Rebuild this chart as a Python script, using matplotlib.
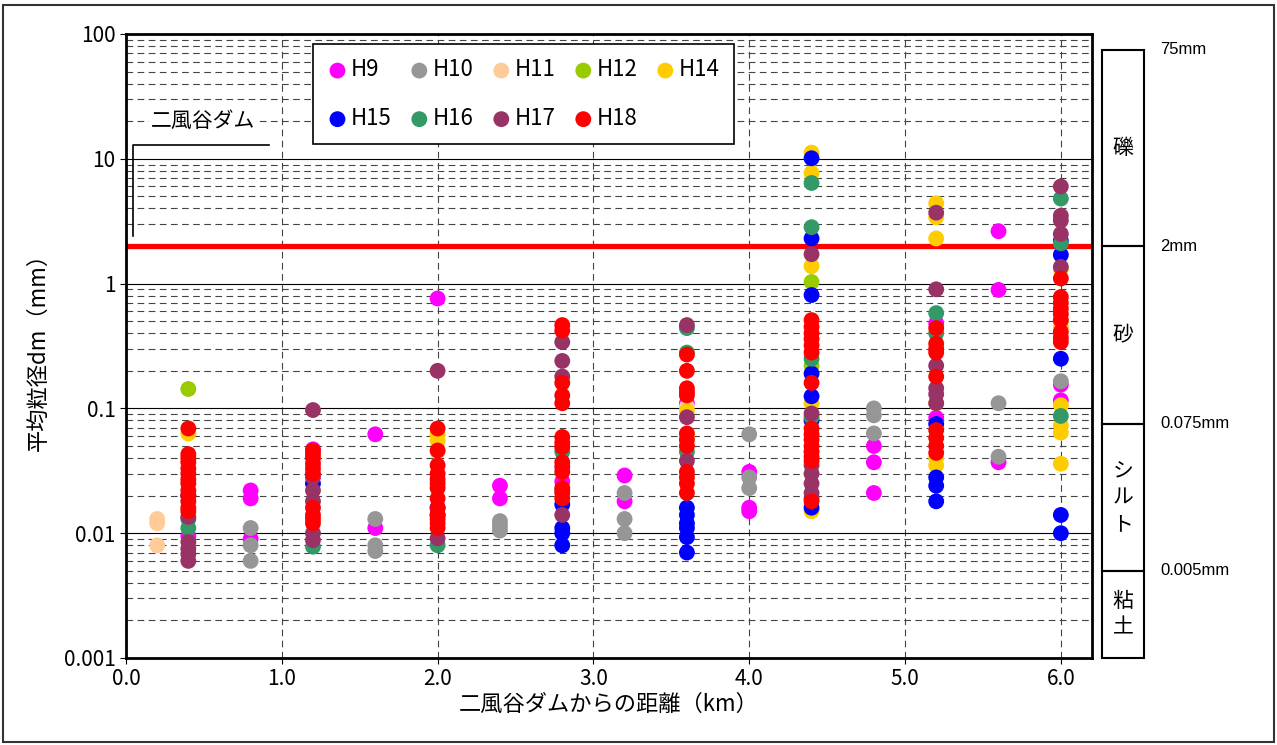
import matplotlib
matplotlib.use('Agg')
import matplotlib.pyplot as plt
from matplotlib.patches import Rectangle
from matplotlib.ticker import LogLocator, NullFormatter

plt.rcParams['font.family'] = ['Noto Sans CJK JP', 'DejaVu Sans']

# 年度別の平均粒径 (距離 km, 粒径 mm)
h9_x = [0.4, 0.8, 0.8, 0.8, 1.2, 1.6, 1.6, 2.0, 2.4, 2.4, 2.8, 3.2, 3.2, 3.6,
        4.0, 4.0, 4.0, 4.8, 4.8, 4.8, 5.2, 5.2, 5.6, 5.6, 5.6, 6.0, 6.0]
h9_y = [0.0095, 0.022, 0.019, 0.009, 0.047, 0.062, 0.011, 0.76, 0.024, 0.019,
        0.026, 0.029, 0.018, 0.11, 0.031, 0.016, 0.015, 0.05, 0.037, 0.021,
        0.084, 0.48, 2.63, 0.89, 0.037, 0.155, 0.116]

h10_x = [0.8, 0.8, 0.8, 1.6, 1.6, 1.6, 2.4, 2.4, 2.4, 3.2, 3.2, 3.2, 4.0, 4.0,
         4.0, 4.8, 4.8, 4.8, 5.6, 5.6, 6.0]
h10_y = [0.011, 0.008, 0.006, 0.013, 0.008, 0.0072, 0.0125, 0.0115, 0.0105,
         0.021, 0.013, 0.010, 0.062, 0.028, 0.023, 0.10, 0.088, 0.063, 0.11,
         0.041, 0.165]

h11_x = [0.2, 0.2, 0.2, 2.0, 3.6, 4.4]
h11_y = [0.013, 0.012, 0.008, 0.045, 0.103, 0.03]

h12_x = [0.4, 4.4, 4.4, 6.0]
h12_y = [0.143, 1.03, 0.22, 0.5]

h14_x = [0.4, 2.0, 2.0, 3.6, 3.6, 4.4, 4.4, 4.4, 4.4, 4.4, 4.4, 5.2, 5.2, 5.2,
         5.2, 5.2, 5.2, 6.0, 6.0, 6.0, 6.0, 6.0, 6.0]
h14_y = [0.063, 0.062, 0.055, 0.095, 0.06, 11.2, 7.7, 1.38, 0.11, 0.045, 0.015,
         4.4, 3.4, 2.3, 0.11, 0.04, 0.035, 1.3, 0.45, 0.106, 0.073, 0.064, 0.036]

h15_x = [0.4, 1.2, 2.0, 2.0, 2.8, 2.8, 2.8, 2.8, 3.6, 3.6, 3.6, 3.6, 3.6, 3.6,
         4.4, 4.4, 4.4, 4.4, 4.4, 4.4, 4.4, 5.2, 5.2, 5.2, 5.2, 6.0, 6.0, 6.0,
         6.0, 6.0]
h15_y = [0.02, 0.025, 0.016, 0.014, 0.017, 0.011, 0.010, 0.008, 0.016, 0.014,
         0.012, 0.011, 0.0093, 0.007, 10.1, 2.3, 0.81, 0.19, 0.125, 0.08, 0.016,
         0.075, 0.028, 0.024, 0.018, 2.2, 1.7, 0.25, 0.014, 0.010]

h16_x = [0.4, 0.4, 1.2, 2.0, 2.8, 2.8, 3.6, 3.6, 3.6, 4.4, 4.4, 4.4, 4.4, 5.2,
         5.2, 6.0, 6.0, 6.0]
h16_y = [0.011, 0.013, 0.0078, 0.008, 0.045, 0.022, 0.44, 0.28, 0.045, 6.4,
         2.83, 0.25, 0.085, 0.58, 0.40, 4.8, 2.1, 0.087]

h17_x = [0.4, 0.4, 0.4, 0.4, 0.4, 1.2, 1.2, 1.2, 1.2, 1.2, 1.2, 2.0, 2.0, 2.8,
         2.8, 2.8, 2.8, 3.6, 3.6, 3.6, 4.4, 4.4, 4.4, 4.4, 4.4, 4.4, 4.4, 5.2,
         5.2, 5.2, 5.2, 5.2, 5.2, 6.0, 6.0, 6.0, 6.0, 6.0]
h17_y = [0.0135, 0.0085, 0.0075, 0.0068, 0.006, 0.097, 0.028, 0.022, 0.018,
         0.010, 0.0088, 0.20, 0.0091, 0.34, 0.24, 0.18, 0.014, 0.465, 0.085,
         0.038, 1.72, 0.091, 0.035, 0.03, 0.025, 0.021, 0.019, 3.7, 0.9, 0.22,
         0.145, 0.13, 0.11, 6.0, 3.5, 3.2, 2.5, 1.36]

h18_x = [0.4] * 13 + [1.2] * 10 + [2.0] * 13 + [2.8] * 14 + [3.6] * 12 \
    + [4.4] * 15 + [5.2] * 9 + [6.0] * 9
h18_y = [0.069, 0.043, 0.04, 0.037, 0.033, 0.03, 0.027, 0.025, 0.022, 0.02,
         0.018, 0.016, 0.015,
         0.046, 0.043, 0.04, 0.036, 0.033, 0.03, 0.016, 0.014, 0.013, 0.012,
         0.069, 0.046, 0.035, 0.03, 0.027, 0.025, 0.023, 0.019, 0.016, 0.014,
         0.013, 0.012, 0.011,
         0.465, 0.42, 0.16, 0.127, 0.11, 0.059, 0.053, 0.049, 0.037, 0.034,
         0.031, 0.023, 0.021, 0.019,
         0.27, 0.2, 0.145, 0.135, 0.127, 0.063, 0.056, 0.05, 0.031, 0.028,
         0.025, 0.021,
         0.51, 0.45, 0.4, 0.36, 0.32, 0.28, 0.16, 0.069, 0.062, 0.056, 0.05,
         0.045, 0.041, 0.038, 0.018,
         0.44, 0.33, 0.3, 0.28, 0.18, 0.067, 0.058, 0.05, 0.044,
         1.1, 0.78, 0.7, 0.63, 0.57, 0.51, 0.41, 0.37, 0.34]

series = [
    ('H9', h9_x, h9_y, '#FF00FF'),
    ('H10', h10_x, h10_y, '#969696'),
    ('H11', h11_x, h11_y, '#FFCC99'),
    ('H12', h12_x, h12_y, '#99CC00'),
    ('H14', h14_x, h14_y, '#FFCC00'),
    ('H15', h15_x, h15_y, '#0000FF'),
    ('H16', h16_x, h16_y, '#339966'),
    ('H17', h17_x, h17_y, '#993366'),
    ('H18', h18_x, h18_y, '#FF0000'),
]

# 粒径区分 (境界 mm)
class_edges = [0.001, 0.005, 0.075, 2, 75]
class_names = ['粘\n土', 'シ\nル\nト', '砂', '礫']
edge_labels = ['0.005mm', '0.075mm', '2mm', '75mm']

xticks = [0, 1, 2, 3, 4, 5, 6]
yticks = [0.001, 0.01, 0.1, 1, 10, 100]
ytick_labels = ['0.001', '0.01', '0.1', '1', '10', '100']

fig = plt.figure(figsize=(12.77, 7.45), dpi=100)
ax = fig.add_axes([126 / 1277, 87 / 745, 966 / 1277, 624 / 745])

handles = {}
for name, xs, ys, c in series:
    handles[name] = ax.scatter(xs, ys, s=130, color=c, edgecolors='none',
                               label=name, zorder=3)

ax.set_yscale('log')
ax.set_ylim(0.001, 100)
ax.set_xlim(0, 6.2)
ax.set_xticks(xticks)
ax.set_xticklabels([f'{v:.1f}' for v in xticks])
ax.set_yticks(yticks)
ax.set_yticklabels(ytick_labels)
ax.yaxis.set_minor_locator(LogLocator(base=10, subs=range(2, 10)))
ax.yaxis.set_minor_formatter(NullFormatter())
ax.tick_params(which='major', length=4, labelsize=15)
ax.tick_params(which='minor', length=0)

ax.grid(which='major', axis='y', color='black', lw=0.8, ls='-')
ax.grid(which='minor', axis='y', color='#444444', lw=0.8, ls=(0, (6, 4)))
ax.grid(which='major', axis='x', color='#444444', lw=0.8, ls=(0, (6, 4)))
ax.set_axisbelow(True)
for sp in ax.spines.values():
    sp.set_linewidth(2)

# 2mm 境界線
ax.axhline(2, color='red', lw=3.8, zorder=2)

# ダム位置
ax.plot([0.045, 0.045, 0.92], [2.4, 13, 13], color='black', lw=1.2, zorder=2)
ax.text(0.16, 20, '二風谷ダム', fontsize=15, va='center', ha='left',
        bbox=dict(facecolor='white', edgecolor='none', pad=1), zorder=2)

ax.set_xlabel('二風谷ダムからの距離（km）', fontsize=16, labelpad=2)
ax.set_ylabel('平均粒径dm（mm）', fontsize=16, labelpad=10)

order = ['H9', 'H15', 'H10', 'H16', 'H11', 'H17', 'H12', 'H18', 'H14']
leg = ax.legend([handles[k] for k in order], order, loc='upper left',
                bbox_to_anchor=(0.1936, 0.984), borderaxespad=0, ncol=5,
                fontsize=16, fancybox=False, edgecolor='black', framealpha=1,
                handletextpad=0.15, columnspacing=0.8, labelspacing=1.15,
                borderpad=0.65, markerscale=1.0, handlelength=0.9)
leg.get_frame().set_linewidth(1.2)
leg.set_zorder(5)

# 右側の粒径区分
pax = fig.add_axes([1102 / 1277, 87 / 745, 42 / 1277, 624 / 745])
pax.set_yscale('log')
pax.set_ylim(0.001, 100)
pax.set_xlim(0, 1)
pax.axis('off')
for lo, hi, nm in zip(class_edges[:-1], class_edges[1:], class_names):
    pax.add_patch(Rectangle((0, lo), 1, hi - lo, fill=False, ec='black',
                            lw=1.5, clip_on=False))
    pax.text(0.5, (lo * hi) ** 0.5, nm, ha='center', va='center',
             fontsize=15, linespacing=1.3)
for v, lb in zip(class_edges[1:], edge_labels):
    pax.text(1.38, v, lb, ha='left', va='center', fontsize=12,
             family=['Liberation Sans', 'DejaVu Sans'], clip_on=False)

fig.add_artist(Rectangle((3 / 1277, 3 / 745), 1271 / 1277, 737 / 745,
                         transform=fig.transFigure, fill=False,
                         ec='#333333', lw=1.5))

fig.savefig('out.png', dpi=100)
